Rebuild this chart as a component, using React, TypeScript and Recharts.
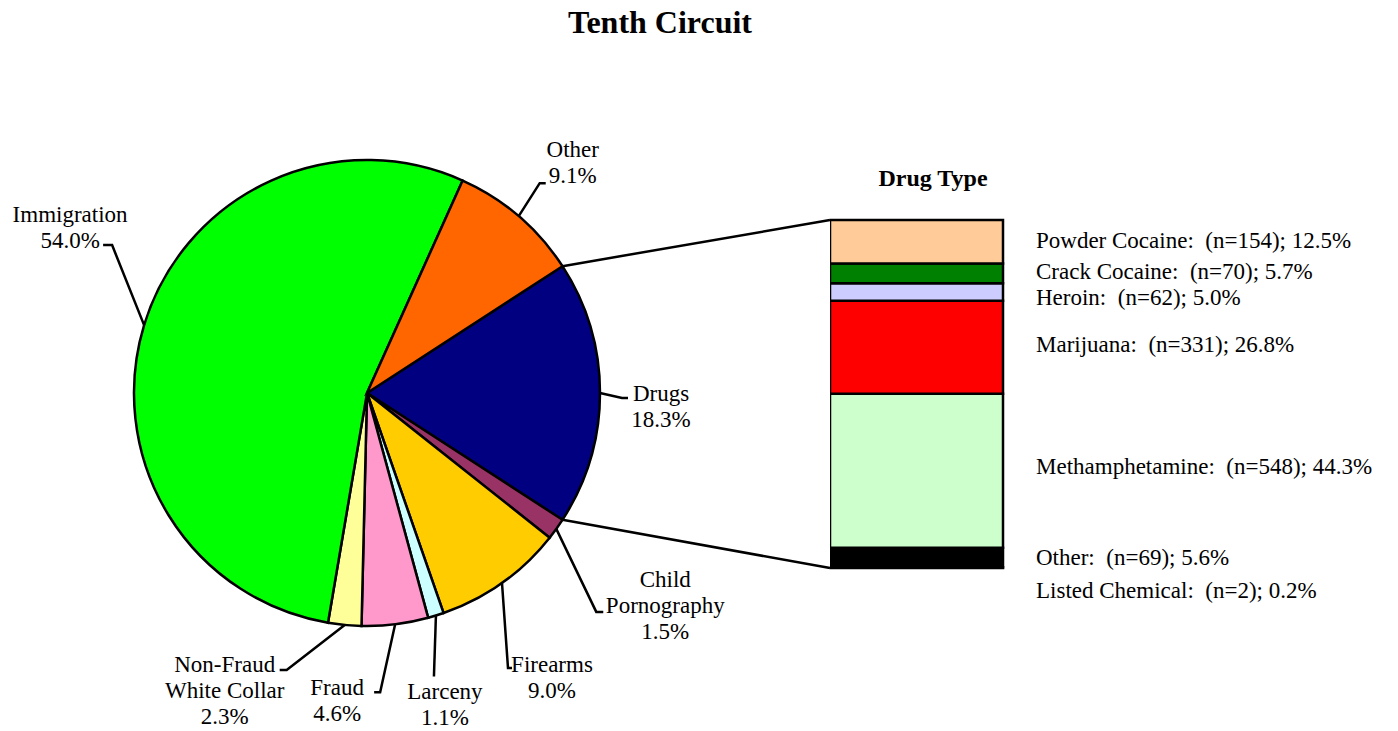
import React from 'react';
import { PieChart, Pie, Cell, BarChart, Bar, XAxis, YAxis, LabelList } from 'recharts';

// offense types, clockwise from the drugs wedge
const offenseNames = ['Drugs', 'Child Pornography', 'Firearms', 'Larceny', 'Fraud', 'Non-Fraud White Collar', 'Immigration', 'Other'];
const offenseLines = [['Drugs'], ['Child', 'Pornography'], ['Firearms'], ['Larceny'], ['Fraud'], ['Non-Fraud', 'White Collar'], ['Immigration'], ['Other']];
const offenseShares = [18.3, 1.5, 9.0, 1.1, 4.6, 2.3, 54.0, 9.1];
const offenseColors = ['#000080', '#993366', '#FFCC00', '#CCFFFF', '#FF99CC', '#FFFF99', '#00FF00', '#FF6600'];

// drug breakdown, top to bottom
const drugNames = ['Powder Cocaine', 'Crack Cocaine', 'Heroin', 'Marijuana', 'Methamphetamine', 'Other', 'Listed Chemical'];
const drugCounts = [154, 70, 62, 331, 548, 69, 2];
const drugShares = [12.5, 5.7, 5.0, 26.8, 44.3, 5.6, 0.2];
const drugColors = ['#FFCC99', '#008000', '#CCCCFF', '#FF0000', '#CCFFCC', '#000000', '#000000'];

// label leader layout: elbow offset from the wedge edge, tick length, text offset from tick end
const leader = [
  { ex: 22, ey: 5, tick: 6, tx: 33, ty: -5 },
  { ex: 40, ey: 83, tick: 7, tx: 62, ty: -32 },
  { ex: 6, ey: 85, tick: 4, tx: 40, ty: -3 },
  { ex: -2, ey: 61, tick: 0, tx: 11, ty: 15 },
  { ex: -15, ey: 68, tick: -6, tx: -37, ty: -5 },
  { ex: -58, ey: 45, tick: -7, tx: -55, ty: -5 },
  { ex: -32, ey: -80, tick: -9, tx: -33, ty: -31 },
  { ex: 21, ey: -33, tick: 6, tx: 27, ty: -34 },
];
const drugLabelDy = [-1, -2, 6, -3, -4, 0, 23];

const W = 1398;
const H = 731;
const CX = 367;
const CY = 393;
const R = 233;
const FONT = '"Liberation Serif", "Times New Roman", serif';
const LINE = 26;

const total = offenseShares.reduce((a, b) => a + b, 0);
const START = (offenseShares[0] / total) * 180;

const BAR_LEFT = 830;
const BAR_TOP = 220;
const BAR_W = 173;
const BAR_H = 348;

const pieData = offenseNames.map((name, i) => ({ name, value: offenseShares[i] }));
const barRow: Record<string, number | string> = { name: 'Drugs' };
drugNames.forEach((_, i) => { barRow['d' + i] = drugShares[i]; });
const barData = [barRow];
const drugTotal = drugShares.reduce((a, b) => a + b, 0);

const RAD = Math.PI / 180;

const renderPieLabel = (props: any) => {
  const { cx, cy, midAngle, outerRadius, index } = props;
  const lay = leader[index];
  const x0 = cx + Math.cos(-midAngle * RAD) * outerRadius;
  const y0 = cy + Math.sin(-midAngle * RAD) * outerRadius;
  const x1 = x0 + lay.ex;
  const y1 = y0 + lay.ey;
  const x2 = x1 + lay.tick;
  const lines = [...offenseLines[index], offenseShares[index].toFixed(1) + '%'];
  return (
    <g key={'lbl' + index}>
      <polyline points={`${x0},${y0} ${x1},${y1} ${x2},${y1}`} fill="none" stroke="#000" strokeWidth={2.5} />
      {lines.map((t, k) => (
        <text key={k} x={x2 + lay.tx} y={y1 + lay.ty + k * LINE} textAnchor="middle" dominantBaseline="central"
          fontFamily={FONT} fontSize={23} fill="#000">{t}</text>
      ))}
    </g>
  );
};

const drugLabel = (i: number) => (props: any) => {
  const { x, y, width, height } = props;
  return (
    <text x={Number(x) + Number(width) + 33} y={Number(y) + Number(height) / 2 + drugLabelDy[i]} dominantBaseline="central"
      fontFamily={FONT} fontSize={23} fill="#000" style={{ whiteSpace: 'pre' }}>
      {`${drugNames[i]}:  (n=${drugCounts[i]}); ${drugShares[i].toFixed(1)}%`}
    </text>
  );
};

export default function App() {
  const a0 = START * RAD;
  const a1 = (START - (offenseShares[0] / total) * 360) * RAD;
  const p0 = { x: CX + Math.cos(a0) * R, y: CY - Math.sin(a0) * R };
  const p1 = { x: CX + Math.cos(a1) * R, y: CY - Math.sin(a1) * R };
  const order = drugNames.map((_, i) => i).reverse();
  return (
    <div style={{ position: 'absolute', left: 0, top: 0, width: W, height: H, background: '#fff', overflow: 'hidden' }}>
      <div style={{ position: 'absolute', left: 0, top: 0 }}>
        <PieChart width={W} height={H} margin={{ top: 0, right: 0, bottom: 0, left: 0 }}>
          <Pie data={pieData} dataKey="value" nameKey="name" cx={CX} cy={CY} outerRadius={R}
            startAngle={START} endAngle={START - 360} stroke="#000" strokeWidth={2.5}
            label={renderPieLabel} labelLine={false} isAnimationActive={false}>
            {pieData.map((_, i) => <Cell key={i} fill={offenseColors[i]} />)}
          </Pie>
        </PieChart>
      </div>
      <div style={{ position: 'absolute', left: BAR_LEFT, top: BAR_TOP - 20 }}>
        <BarChart width={W - BAR_LEFT} height={BAR_H + 80} data={barData}
          margin={{ top: 20, bottom: 60, left: 0, right: W - BAR_LEFT - BAR_W }} barCategoryGap={0}>
          <XAxis dataKey="name" hide />
          <YAxis hide domain={[0, drugTotal]} />
          {order.map((i) => (
            <Bar key={i} dataKey={'d' + i} stackId="drug" fill={drugColors[i]} stroke="#000" strokeWidth={2.5} isAnimationActive={false}>
              <LabelList dataKey={'d' + i} content={drugLabel(i)} />
            </Bar>
          ))}
        </BarChart>
      </div>
      <svg width={W} height={H} style={{ position: 'absolute', left: 0, top: 0, pointerEvents: 'none' }}>
        <text x={660} y={22} textAnchor="middle" dominantBaseline="central" fontFamily={FONT} fontSize={32} fontWeight="bold">Tenth Circuit</text>
        <text x={933} y={178} textAnchor="middle" dominantBaseline="central" fontFamily={FONT} fontSize={24} fontWeight="bold">Drug Type</text>
        <line x1={p0.x} y1={p0.y} x2={BAR_LEFT} y2={BAR_TOP} stroke="#000" strokeWidth={2.5} />
        <line x1={p1.x} y1={p1.y} x2={BAR_LEFT} y2={BAR_TOP + BAR_H} stroke="#000" strokeWidth={2.5} />
      </svg>
    </div>
  );
}
